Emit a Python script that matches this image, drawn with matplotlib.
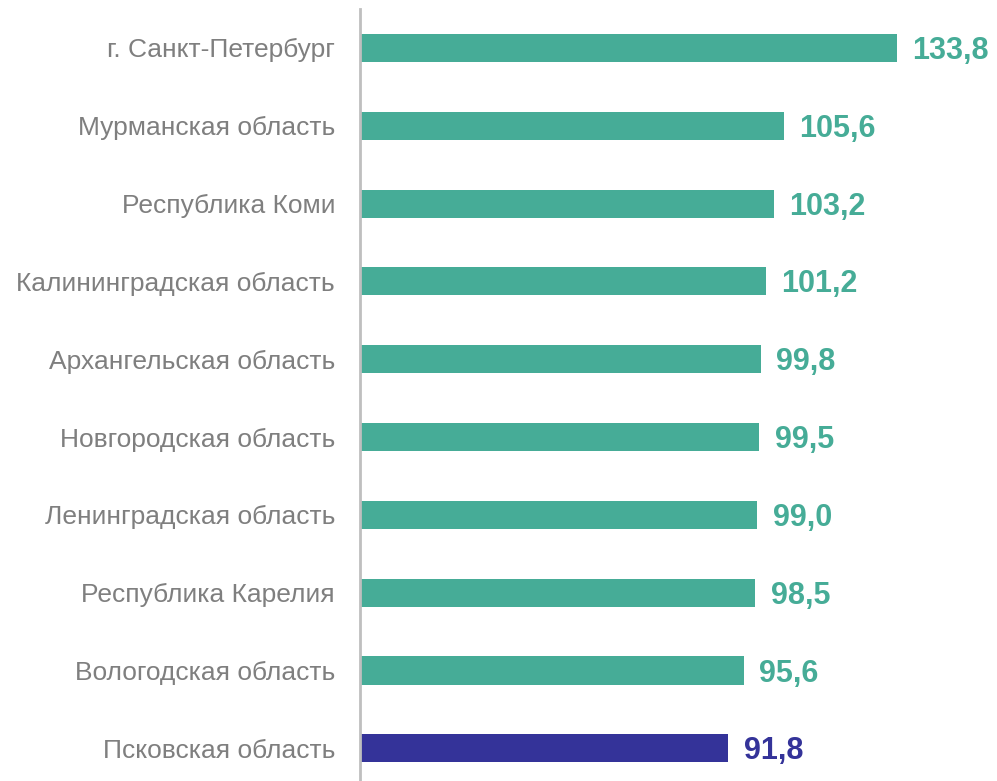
import matplotlib.pyplot as plt

regions = [
    "г. Санкт-Петербург",
    "Мурманская область",
    "Республика Коми",
    "Калининградская область",
    "Архангельская область",
    "Новгородская область",
    "Ленинградская область",
    "Республика Карелия",
    "Вологодская область",
    "Псковская область",
]
values = [133.8, 105.6, 103.2, 101.2, 99.8, 99.5, 99.0, 98.5, 95.6, 91.8]
labels = ["133,8", "105,6", "103,2", "101,2", "99,8", "99,5", "99,0", "98,5", "95,6", "91,8"]

teal = "#46AC97"
navy = "#343399"
colors = [teal] * 9 + [navy]

plt.rcParams["font.family"] = ["Liberation Sans", "DejaVu Sans"]

fig = plt.figure(figsize=(9.97, 7.81), dpi=100)
ax = fig.add_axes([360 / 997, 0, 1 - 360 / 997, (781 - 9) / 781])

pos = list(range(len(regions)))
ax.barh(pos, values, height=0.36, color=colors)
ax.set_ylim(9.42, -0.5)
ax.set_xlim(0, 158.7)

for p, v, lab, c in zip(pos, values, labels, colors):
    ax.text(v + 3.8, p + 0.04, lab, va="center", ha="left", fontsize=22, fontweight="bold", color=c)

ax.set_yticks(pos)
ax.set_yticklabels(regions, fontsize=19, color="#7F7F7F")
ax.tick_params(axis="y", length=0, pad=18)
ax.set_xticks([])
for s in ["top", "right", "bottom"]:
    ax.spines[s].set_visible(False)
ax.spines["left"].set_color("#BFBFBF")
ax.spines["left"].set_linewidth(2)

fig.savefig("out.png", dpi=100)
